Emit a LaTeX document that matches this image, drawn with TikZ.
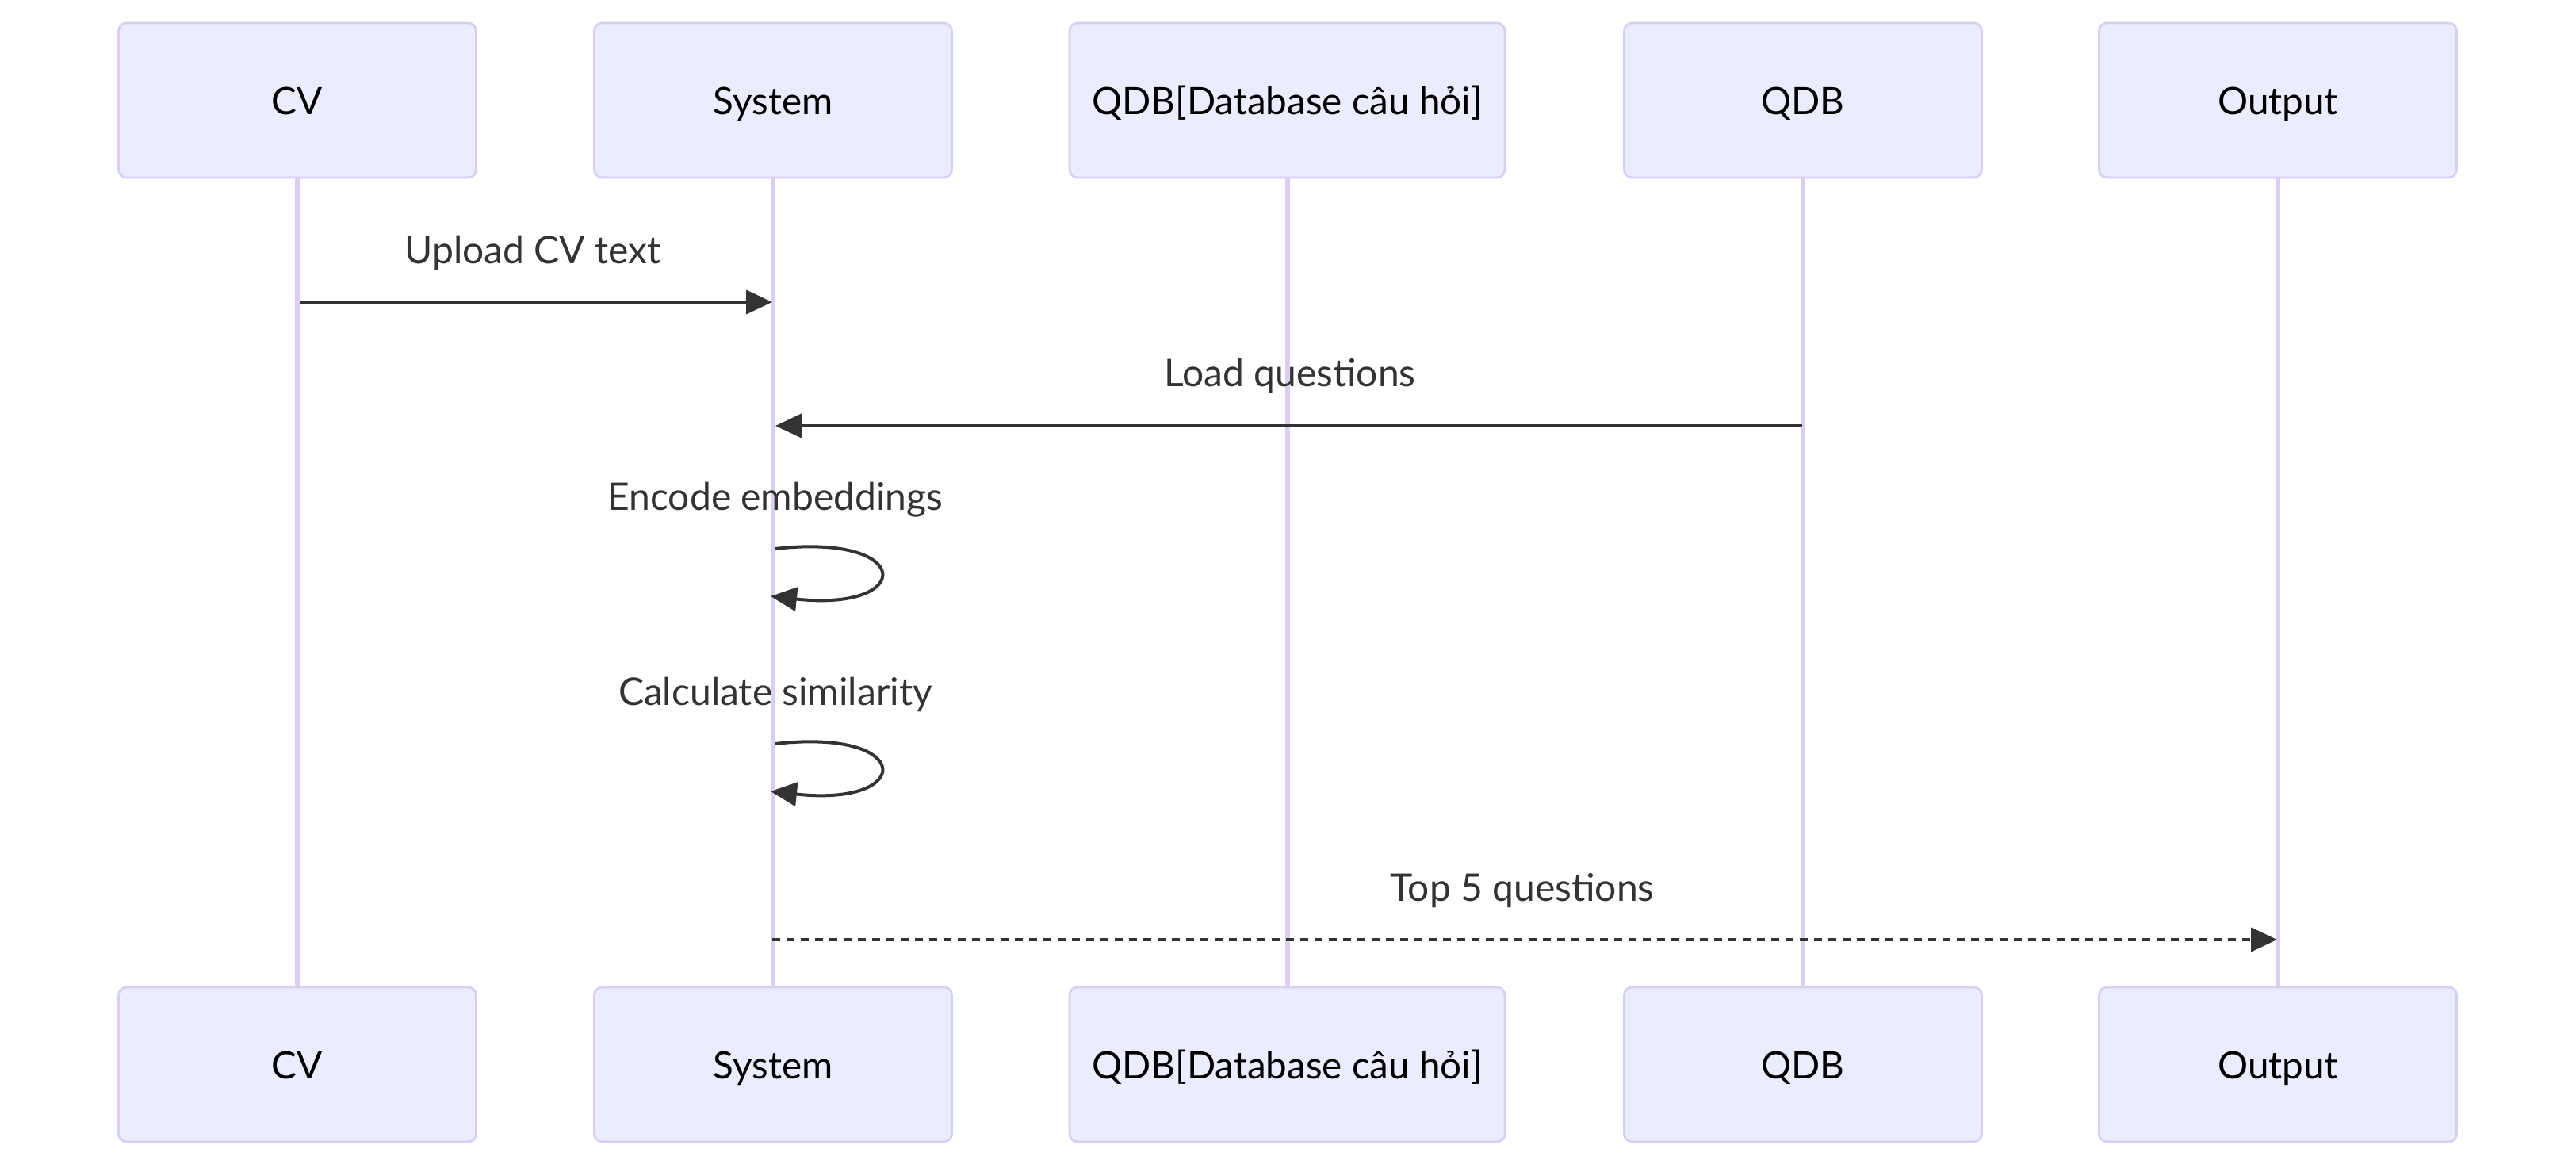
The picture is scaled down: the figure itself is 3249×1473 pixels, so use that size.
\documentclass[tikz,border=0pt]{standalone}
\usepackage{fontspec}
\setmainfont{Lato}
\usetikzlibrary{arrows.meta}
\definecolor{actorfill}{HTML}{ECECFF}
\definecolor{actorline}{HTML}{DACEF3}
\definecolor{msgcol}{HTML}{333333}
\tikzset{
  actor/.style={draw=actorline, line width=0.7pt, fill=actorfill, rounded corners=2.5pt,
    minimum width=112.75pt, minimum height=48.75pt, inner sep=0pt, text height=9.2pt, text depth=0pt,
    font=\fontsize{11.9}{13}\selectfont, text=black},
  wideactor/.style={actor, minimum width=137.25pt},
  lifeline/.style={draw=actorline, line width=1.5pt},
  msg/.style={draw=msgcol, line width=1pt, -{Triangle[length=8.25pt,width=7.5pt]}},
  dmsg/.style={msg, dash pattern=on 2.4pt off 2.1pt},
  msglabel/.style={font=\fontsize{12}{13}\selectfont, text=msgcol, inner sep=0pt},
}
\begin{document}
\begin{tikzpicture}[x=0.25pt,y=-0.25pt]
\path[use as bounding box, fill=white] (0,0) rectangle (3249,1473);
% top actors
\node[actor] (cvT) at (375,126.5) {CV};
\node[actor] (sysT) at (975,126.5) {System};
\node[wideactor] (qdbdT) at (1623.5,126.5) {QDB[Database câu hỏi]};
\node[actor] (qdbT) at (2274,126.5) {QDB};
\node[actor] (outT) at (2873,126.5) {Output};
% bottom actors
\node[actor] (cvB) at (375,1342.5) {CV};
\node[actor] (sysB) at (975,1342.5) {System};
\node[wideactor] (qdbdB) at (1623.5,1342.5) {QDB[Database câu hỏi]};
\node[actor] (qdbB) at (2274,1342.5) {QDB};
\node[actor] (outB) at (2873,1342.5) {Output};
% lifelines
\foreach \a in {cv,sys,qdbd,qdb,out}{
  \draw[lifeline] (\a T.south) -- (\a B.north);
}
% message anchor coordinates
\coordinate (m1s) at (379,381);
\coordinate (m1e) at (974,381);
\coordinate (m2s) at (2273,537);
\coordinate (m2e) at (978,537);
\coordinate (l1s) at (978,692);
\coordinate (l1e) at (972,752);
\coordinate (l2s) at (978,938);
\coordinate (l2e) at (972,998);
\coordinate (m5s) at (974,1185);
\coordinate (m5e) at (2872,1185);
% messages
\draw[msg] (m1s) -- (m1e);
\node[msglabel] (t1) at (672,319) {Upload CV text};
\draw[msg] (m2s) -- (m2e);
\node[msglabel] (t2) at (1627,474) {Load questions};
\draw[msg] (l1s) .. controls (1154,672) and (1154,772) .. (l1e);
\node[msglabel] (t3) at (978,630) {Encode embeddings};
\draw[msg] (l2s) .. controls (1154,918) and (1154,1018) .. (l2e);
\node[msglabel] (t4) at (978,876) {Calculate similarity};
\draw[dmsg] (m5s) -- (m5e);
\node[msglabel] (t5) at (1920,1123) {Top 5 questions};
\end{tikzpicture}
\end{document}
